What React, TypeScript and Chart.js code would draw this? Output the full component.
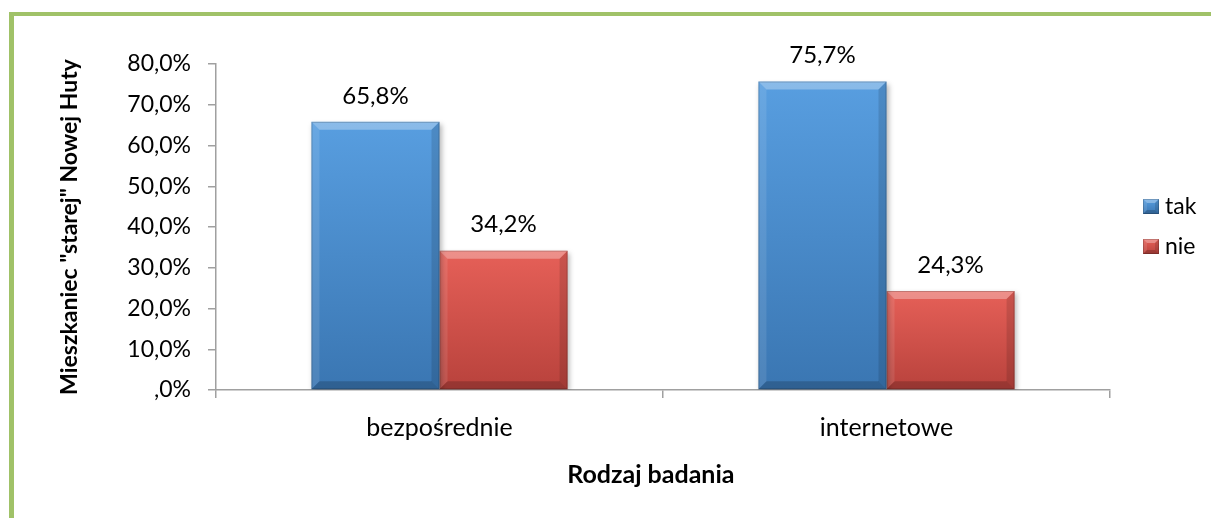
import React, { useEffect, useRef } from "react";
import { Chart, registerables } from "chart.js";

Chart.register(...registerables);

const categories = ["bezpośrednie", "internetowe"];
const seriesNames = ["tak", "nie"];
const takValues = [65.8, 75.7];
const nieValues = [34.2, 24.3];
const yTicks = [0, 10, 20, 30, 40, 50, 60, 70, 80];

const FONT = "Lato, 'Open Sans', sans-serif";
const blueTop = "rgb(88,158,224)";
const blueBottom = "rgb(58,118,178)";
const redTop = "rgb(230,96,88)";
const redBottom = "rgb(184,66,60)";
const legendColors = [
  [blueTop, blueBottom],
  [redTop, redBottom],
];

function fmt(v: number): string {
  if (v === 0) return ",0%";
  return v.toFixed(1).replace(".", ",") + "%";
}

function barGradient(top: string, bottom: string) {
  return (ctx: any) => {
    const chart = ctx.chart;
    const area = chart.chartArea;
    if (!area || ctx.raw === undefined) return top;
    const y = chart.scales.y.getPixelForValue(ctx.raw);
    const y0 = chart.scales.y.getPixelForValue(0);
    const g = chart.ctx.createLinearGradient(0, y, 0, y0);
    g.addColorStop(0, top);
    g.addColorStop(1, bottom);
    return g;
  };
}

function drawBevel(c: CanvasRenderingContext2D, l: number, t: number, r: number, b: number, s: number) {
  const poly = (pts: number[][], fill: string) => {
    c.beginPath();
    c.moveTo(pts[0][0], pts[0][1]);
    for (let i = 1; i < pts.length; i++) c.lineTo(pts[i][0], pts[i][1]);
    c.closePath();
    c.fillStyle = fill;
    c.fill();
  };
  poly([[l, t], [r, t], [r - s, t + s], [l + s, t + s]], "rgba(255,255,255,0.30)");
  poly([[l, t], [l + s, t + s], [l + s, b - s], [l, b]], "rgba(255,255,255,0.10)");
  poly([[r, t], [r, b], [r - s, b - s], [r - s, t + s]], "rgba(0,0,0,0.12)");
  poly([[l, b], [r, b], [r - s, b - s], [l + s, b - s]], "rgba(0,0,0,0.18)");
  c.strokeStyle = "rgba(0,0,0,0.18)";
  c.lineWidth = 1;
  c.strokeRect(l + 0.5, t + 0.5, r - l - 1, b - t - 1);
}

const barStylePlugin = {
  id: "barStyle",
  beforeDatasetsDraw(chart: any) {
    const c = chart.ctx;
    c.save();
    c.shadowColor = "rgba(0,0,0,0.28)";
    c.shadowBlur = 5;
    c.shadowOffsetX = 2;
    c.shadowOffsetY = 2;
  },
  afterDatasetsDraw(chart: any) {
    const c = chart.ctx;
    c.restore();
    c.save();
    chart.data.datasets.forEach((ds: any, di: number) => {
      const meta = chart.getDatasetMeta(di);
      meta.data.forEach((el: any, i: number) => {
        const p = el.getProps(["x", "y", "base", "width"], true);
        const l = p.x - p.width / 2;
        const r = p.x + p.width / 2;
        drawBevel(c, l, p.y, r, p.base, 8);
        c.fillStyle = "#000";
        c.font = `24px ${FONT}`;
        c.textAlign = "center";
        c.textBaseline = "middle";
        c.fillText(fmt(ds.data[i]), p.x, p.y - 26);
      });
    });
    c.restore();
  },
};

const legendPlugin = {
  id: "sideLegend",
  afterDraw(chart: any) {
    const c = chart.ctx;
    const area = chart.chartArea;
    const mid = (area.top + area.bottom) / 2;
    c.save();
    chart.data.datasets.forEach((ds: any, i: number) => {
      const cy = mid - 20 + i * 40;
      const x = area.right + 33;
      const y = cy - 8;
      const g = c.createLinearGradient(0, y, 0, y + 15);
      g.addColorStop(0, legendColors[i][0]);
      g.addColorStop(1, legendColors[i][1]);
      c.fillStyle = g;
      c.fillRect(x, y, 16, 15);
      drawBevel(c, x, y, x + 16, y + 15, 4);
      c.fillStyle = "#000";
      c.font = `23px ${FONT}`;
      c.textAlign = "left";
      c.textBaseline = "middle";
      c.fillText(ds.label, x + 22, cy);
    });
    c.restore();
  },
};

export default function App() {
  const ref = useRef<HTMLCanvasElement | null>(null);
  useEffect(() => {
    if (!ref.current) return;
    Chart.defaults.color = "#000";
    const chart = new Chart(ref.current, {
      type: "bar",
      data: {
        labels: categories,
        datasets: [
          {
            label: seriesNames[0],
            data: takValues,
            backgroundColor: barGradient(blueTop, blueBottom),
            borderWidth: 0,
          },
          {
            label: seriesNames[1],
            data: nieValues,
            backgroundColor: barGradient(redTop, redBottom),
            borderWidth: 0,
          },
        ],
      },
      options: {
        animation: false,
        responsive: true,
        maintainAspectRatio: false,
        layout: { padding: { top: 64, left: 53, right: 101, bottom: 24 } },
        plugins: {
          legend: { display: false },
          tooltip: { enabled: false },
        },
        datasets: {
          bar: { categoryPercentage: 0.573, barPercentage: 1 },
        },
        scales: {
          x: {
            offset: true,
            grid: {
              offset: true,
              drawOnChartArea: false,
              drawTicks: true,
              tickLength: 8,
              color: "#a0a0a0",
              lineWidth: 1.5,
            },
            border: { color: "#a0a0a0", width: 1.5 },
            ticks: { font: { family: FONT, size: 25 }, padding: 15, color: "#000" },
            title: {
              display: true,
              text: "Rodzaj badania    ",
              font: { family: FONT, size: 25, weight: "bold" },
              color: "#000",
              padding: { top: 4, bottom: 4 },
            },
            afterFit(scale: any) {
              scale.height = 518 - 390 - 24;
            },
          },
          y: {
            min: 0,
            max: 80,
            afterBuildTicks(scale: any) {
              scale.ticks = yTicks.map((v) => ({ value: v }));
            },
            grid: {
              drawOnChartArea: false,
              drawTicks: true,
              tickLength: 8,
              color: "#a0a0a0",
              lineWidth: 1.5,
            },
            border: { color: "#a0a0a0", width: 1.5 },
            ticks: {
              font: { family: FONT, size: 23 },
              padding: 17,
              color: "#000",
              callback: (v: any) => fmt(Number(v)),
            },
            title: {
              display: true,
              text: 'Mieszkaniec "starej" Nowej Huty',
              font: { family: FONT, size: 23, weight: "bold" },
              color: "#000",
              padding: { top: 3, bottom: 4 },
            },
            afterFit(scale: any) {
              scale.width = 216 - 53;
            },
          },
        },
      },
      plugins: [barStylePlugin, legendPlugin],
    });
    return () => chart.destroy();
  }, []);

  return (
    <div style={{ position: "absolute", left: 0, top: 0, width: 1211, height: 518, background: "#fff", overflow: "hidden" }}>
      <div
        style={{
          position: "absolute",
          left: 9,
          top: 12,
          width: 1400,
          height: 700,
          borderLeft: "5px solid rgb(160,194,104)",
          borderTop: "4px solid rgb(160,194,104)",
        }}
      />
      <canvas ref={ref} style={{ position: "absolute", left: 0, top: 0 }} />
    </div>
  );
}
